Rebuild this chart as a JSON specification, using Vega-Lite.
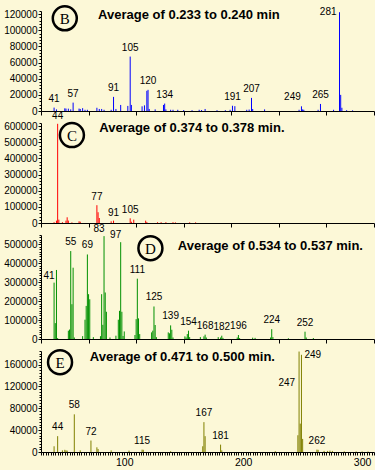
{
  "$schema": "https://vega.github.io/schema/vega-lite/v6.json",
  "padding": {"left": 3, "top": 1, "right": 0, "bottom": 2},
  "background": "#FCF8D7",
  "config": {
    "view": {"stroke": null},
    "axis": {"domainColor": "#000000", "tickColor": "#000000", "labelColor": "#000000", "labelFont": "Liberation Sans", "labelFontSize": 10, "grid": false, "tickWidth": 1, "domainWidth": 1},
    "text": {"font": "Liberation Sans", "fontSize": 10, "color": "#000000"}
  },
  "datasets": {
    "peaks": [
      {"p": "B", "mz": 41, "i": 4200, "lab": "41"}, {"p": "B", "mz": 43, "i": 2000}, {"p": "B", "mz": 50, "i": 3300}, {"p": "B", "mz": 51, "i": 3000}, {"p": "B", "mz": 53, "i": 2900}, {"p": "B", "mz": 55, "i": 2000}, {"p": "B", "mz": 57, "i": 10400, "lab": "57"}, {"p": "B", "mz": 62, "i": 3000}, {"p": "B", "mz": 63, "i": 2500}, {"p": "B", "mz": 65, "i": 3500}, {"p": "B", "mz": 67, "i": 1500}, {"p": "B", "mz": 69, "i": 1500}, {"p": "B", "mz": 77, "i": 4000}, {"p": "B", "mz": 79, "i": 2500}, {"p": "B", "mz": 81, "i": 2500}, {"p": "B", "mz": 83, "i": 1500}, {"p": "B", "mz": 89, "i": 1500}, {"p": "B", "mz": 91, "i": 17500, "lab": "91"}, {"p": "B", "mz": 93, "i": 2500}, {"p": "B", "mz": 97, "i": 7500}, {"p": "B", "mz": 103, "i": 6300}, {"p": "B", "mz": 105, "i": 67500, "lab": "105"}, {"p": "B", "mz": 106, "i": 7500}, {"p": "B", "mz": 115, "i": 5800}, {"p": "B", "mz": 117, "i": 7000}, {"p": "B", "mz": 119, "i": 25000}, {"p": "B", "mz": 120, "i": 26250, "lab": "120"}, {"p": "B", "mz": 121, "i": 2500}, {"p": "B", "mz": 126, "i": 2000}, {"p": "B", "mz": 133, "i": 7500}, {"p": "B", "mz": 134, "i": 9200, "lab": "134"}, {"p": "B", "mz": 135, "i": 2000}, {"p": "B", "mz": 139, "i": 1500}, {"p": "B", "mz": 141, "i": 1500}, {"p": "B", "mz": 145, "i": 1500}, {"p": "B", "mz": 150, "i": 1200}, {"p": "B", "mz": 157, "i": 1000}, {"p": "B", "mz": 163, "i": 1500}, {"p": "B", "mz": 165, "i": 1200}, {"p": "B", "mz": 168, "i": 2500}, {"p": "B", "mz": 178, "i": 1000}, {"p": "B", "mz": 185, "i": 1000}, {"p": "B", "mz": 189, "i": 1500}, {"p": "B", "mz": 191, "i": 6500, "lab": "191"}, {"p": "B", "mz": 193, "i": 6000}, {"p": "B", "mz": 203, "i": 1500}, {"p": "B", "mz": 205, "i": 1800}, {"p": "B", "mz": 207, "i": 16250, "lab": "207"}, {"p": "B", "mz": 208, "i": 2500}, {"p": "B", "mz": 218, "i": 2000}, {"p": "B", "mz": 247, "i": 1500}, {"p": "B", "mz": 249, "i": 5800, "lab": "249"}, {"p": "B", "mz": 250, "i": 2000}, {"p": "B", "mz": 251, "i": 1500}, {"p": "B", "mz": 263, "i": 1500}, {"p": "B", "mz": 265, "i": 8750, "lab": "265"}, {"p": "B", "mz": 276, "i": 1500}, {"p": "B", "mz": 281, "i": 122500, "lab": "281"}, {"p": "B", "mz": 282, "i": 20000}, {"p": "B", "mz": 283, "i": 4000}, {"p": "B", "mz": 287, "i": 1000}, {"p": "B", "mz": 292, "i": 800},

      {"p": "C", "mz": 41, "i": 5000}, {"p": "C", "mz": 43, "i": 14600}, {"p": "C", "mz": 44, "i": 615000, "lab": "44"}, {"p": "C", "mz": 45, "i": 20800}, {"p": "C", "mz": 48, "i": 5000}, {"p": "C", "mz": 51, "i": 14600}, {"p": "C", "mz": 52, "i": 35400}, {"p": "C", "mz": 53, "i": 15000}, {"p": "C", "mz": 56, "i": 4000}, {"p": "C", "mz": 62, "i": 10400}, {"p": "C", "mz": 63, "i": 8000}, {"p": "C", "mz": 77, "i": 110400, "lab": "77"}, {"p": "C", "mz": 78, "i": 66700}, {"p": "C", "mz": 79, "i": 31000}, {"p": "C", "mz": 89, "i": 10400}, {"p": "C", "mz": 91, "i": 14600, "lab": "91"}, {"p": "C", "mz": 105, "i": 29000, "lab": "105"}, {"p": "C", "mz": 106, "i": 8000}, {"p": "C", "mz": 108, "i": 20800}, {"p": "C", "mz": 118, "i": 14600}, {"p": "C", "mz": 119, "i": 6000}, {"p": "C", "mz": 128, "i": 5000}, {"p": "C", "mz": 131, "i": 5000}, {"p": "C", "mz": 135, "i": 5000}, {"p": "C", "mz": 141, "i": 5000}, {"p": "C", "mz": 143, "i": 4000}, {"p": "C", "mz": 155, "i": 4000}, {"p": "C", "mz": 160, "i": 4000},

      {"p": "D", "mz": 41, "i": 298000, "lab": "41"}, {"p": "D", "mz": 42, "i": 84000}, {"p": "D", "mz": 43, "i": 365000}, {"p": "D", "mz": 44, "i": 5000}, {"p": "D", "mz": 53, "i": 44000}, {"p": "D", "mz": 54, "i": 50000}, {"p": "D", "mz": 55, "i": 465000, "lab": "55"}, {"p": "D", "mz": 56, "i": 184000}, {"p": "D", "mz": 57, "i": 377000}, {"p": "D", "mz": 58, "i": 8000}, {"p": "D", "mz": 65, "i": 15000}, {"p": "D", "mz": 67, "i": 102000}, {"p": "D", "mz": 68, "i": 175000}, {"p": "D", "mz": 69, "i": 447000, "lab": "69"}, {"p": "D", "mz": 70, "i": 237000}, {"p": "D", "mz": 71, "i": 210000}, {"p": "D", "mz": 74, "i": 10000}, {"p": "D", "mz": 80, "i": 15000}, {"p": "D", "mz": 81, "i": 237000}, {"p": "D", "mz": 82, "i": 75000}, {"p": "D", "mz": 83, "i": 544000, "lab": "83"}, {"p": "D", "mz": 84, "i": 246000}, {"p": "D", "mz": 85, "i": 144000}, {"p": "D", "mz": 88, "i": 8000}, {"p": "D", "mz": 93, "i": 17500}, {"p": "D", "mz": 95, "i": 102000}, {"p": "D", "mz": 96, "i": 149000}, {"p": "D", "mz": 97, "i": 512000, "lab": "97"}, {"p": "D", "mz": 98, "i": 144000}, {"p": "D", "mz": 99, "i": 16000}, {"p": "D", "mz": 100, "i": 40000}, {"p": "D", "mz": 109, "i": 21000}, {"p": "D", "mz": 110, "i": 105000}, {"p": "D", "mz": 111, "i": 319000, "lab": "111"}, {"p": "D", "mz": 112, "i": 109000}, {"p": "D", "mz": 113, "i": 26000}, {"p": "D", "mz": 123, "i": 35000}, {"p": "D", "mz": 124, "i": 44000}, {"p": "D", "mz": 125, "i": 172000, "lab": "125"}, {"p": "D", "mz": 126, "i": 74000}, {"p": "D", "mz": 127, "i": 10000}, {"p": "D", "mz": 137, "i": 35000}, {"p": "D", "mz": 138, "i": 30000}, {"p": "D", "mz": 139, "i": 72000, "lab": "139"}, {"p": "D", "mz": 140, "i": 49000}, {"p": "D", "mz": 141, "i": 8000}, {"p": "D", "mz": 151, "i": 14000}, {"p": "D", "mz": 152, "i": 8000}, {"p": "D", "mz": 153, "i": 26000}, {"p": "D", "mz": 154, "i": 44000, "lab": "154"}, {"p": "D", "mz": 155, "i": 10000}, {"p": "D", "mz": 164, "i": 10000}, {"p": "D", "mz": 167, "i": 14000}, {"p": "D", "mz": 168, "i": 23000, "lab": "168"}, {"p": "D", "mz": 169, "i": 8000}, {"p": "D", "mz": 179, "i": 10000}, {"p": "D", "mz": 181, "i": 8000}, {"p": "D", "mz": 182, "i": 17500, "lab": "182"}, {"p": "D", "mz": 183, "i": 6000}, {"p": "D", "mz": 195, "i": 8000}, {"p": "D", "mz": 196, "i": 21000, "lab": "196"}, {"p": "D", "mz": 197, "i": 5000}, {"p": "D", "mz": 208, "i": 7000}, {"p": "D", "mz": 210, "i": 6000}, {"p": "D", "mz": 223, "i": 8000}, {"p": "D", "mz": 224, "i": 52000, "lab": "224"}, {"p": "D", "mz": 225, "i": 10000}, {"p": "D", "mz": 238, "i": 4000}, {"p": "D", "mz": 252, "i": 38600, "lab": "252"}, {"p": "D", "mz": 253, "i": 8000}, {"p": "D", "mz": 259, "i": 5000},

      {"p": "E", "mz": 41, "i": 10500}, {"p": "E", "mz": 44, "i": 29000, "lab": "44"}, {"p": "E", "mz": 48, "i": 3000}, {"p": "E", "mz": 50, "i": 4000}, {"p": "E", "mz": 51, "i": 3000}, {"p": "E", "mz": 52, "i": 2500}, {"p": "E", "mz": 58, "i": 69000, "lab": "58"}, {"p": "E", "mz": 63, "i": 3000}, {"p": "E", "mz": 72, "i": 21000, "lab": "72"}, {"p": "E", "mz": 77, "i": 8600}, {"p": "E", "mz": 78, "i": 5500}, {"p": "E", "mz": 89, "i": 3000}, {"p": "E", "mz": 104, "i": 2500}, {"p": "E", "mz": 115, "i": 4300, "lab": "115"}, {"p": "E", "mz": 116, "i": 4000}, {"p": "E", "mz": 139, "i": 1500}, {"p": "E", "mz": 166, "i": 10500}, {"p": "E", "mz": 167, "i": 54700, "lab": "167"}, {"p": "E", "mz": 168, "i": 29000}, {"p": "E", "mz": 181, "i": 13500, "lab": "181"}, {"p": "E", "mz": 182, "i": 3000}, {"p": "E", "mz": 227, "i": 1500}, {"p": "E", "mz": 246, "i": 30700}, {"p": "E", "mz": 247, "i": 184000, "lab": "247"}, {"p": "E", "mz": 248, "i": 52000}, {"p": "E", "mz": 249, "i": 178000, "lab": "249"}, {"p": "E", "mz": 250, "i": 24000}, {"p": "E", "mz": 262, "i": 4300, "lab": "262"}, {"p": "E", "mz": 263, "i": 4000}, {"p": "E", "mz": 268, "i": 2000}, {"p": "E", "mz": 271, "i": 2000}, {"p": "E", "mz": 273, "i": 2500}, {"p": "E", "mz": 275, "i": 2000}, {"p": "E", "mz": 285, "i": 1200}, {"p": "E", "mz": 295, "i": 1000}, {"p": "E", "mz": 300, "i": 1000}, {"p": "E", "mz": 305, "i": 1000}
    ]
  },
  "vconcat": [
    {
      "width": 333, "height": 100,
      "data": {"name": "peaks"},
      "transform": [{"filter": "datum.p == 'B'"}],
      "resolve": {"axis": {"y": "independent"}},
      "layer": [
        {"mark": {"type": "rule", "color": "#0000FF", "strokeWidth": 1},
         "encoding": {
           "x": {"field": "mz", "type": "quantitative", "scale": {"domain": [30, 310], "nice": false}, "axis": {"title": null, "labels": false, "tickSize": 4, "values": [30,40,50,60,70,80,90,100,110,120,130,140,150,160,170,180,190,200,210,220,230,240,250,260,270,280,290,300,310]}},
           "y": {"field": "i", "type": "quantitative", "scale": {"domain": [0, 124000], "nice": false}, "axis": {"title": null, "tickSize": 3, "labelPadding": 1, "format": "d", "values": [0,20000,40000,60000,80000,100000,120000]}},
           "y2": {"datum": 0}}},
        {"transform": [{"filter": "isValid(datum.lab) && datum.mz != 281 && datum.mz != 249"}],
         "mark": {"type": "text", "baseline": "bottom", "dy": -4},
         "encoding": {"x": {"field": "mz", "type": "quantitative"}, "y": {"field": "i", "type": "quantitative", "axis": {"title": null, "labels": false, "domain": false, "tickSize": 2, "orient": "left", "values": [4000,8000,12000,16000,24000,28000,32000,36000,44000,48000,52000,56000,64000,68000,72000,76000,84000,88000,92000,96000,104000,108000,112000,116000,124000]}}, "text": {"field": "lab"}}},
        {"transform": [{"filter": "datum.mz == 249"}],
         "mark": {"type": "text", "baseline": "bottom", "dy": -4, "dx": -9},
         "encoding": {"x": {"field": "mz", "type": "quantitative"}, "y": {"field": "i", "type": "quantitative", "axis": null}, "text": {"field": "lab"}}},
        {"transform": [{"filter": "datum.mz == 281"}],
         "mark": {"type": "text", "baseline": "middle", "align": "right", "dx": -3},
         "encoding": {"x": {"field": "mz", "type": "quantitative"}, "y": {"field": "i", "type": "quantitative", "axis": null}, "text": {"field": "lab"}}},
        {"data": {"values": [{}]},
         "mark": {"type": "point", "shape": "circle", "size": 576, "filled": false, "stroke": "#000000", "strokeWidth": 2.5, "opacity": 1},
         "encoding": {"x": {"datum": 50, "type": "quantitative"}, "y": {"datum": 115000, "type": "quantitative", "axis": null}}},
        {"data": {"values": [{}]},
         "mark": {"type": "text", "text": "B", "font": "Liberation Serif", "fontSize": 15, "baseline": "middle", "align": "center", "dy": 1},
         "encoding": {"x": {"datum": 50, "type": "quantitative"}, "y": {"datum": 115000, "type": "quantitative", "axis": null}}},
        {"data": {"values": [{}]},
         "mark": {"type": "text", "text": "Average of 0.233 to 0.240 min", "fontWeight": "bold", "fontSize": 13, "baseline": "middle", "align": "left"},
         "encoding": {"x": {"datum": 78, "type": "quantitative"}, "y": {"datum": 119000, "type": "quantitative", "axis": null}}}
      ]
    },
    {
      "width": 333, "height": 100,
      "data": {"name": "peaks"},
      "transform": [{"filter": "datum.p == 'C'"}],
      "resolve": {"axis": {"y": "independent"}},
      "layer": [
        {"mark": {"type": "rule", "color": "#FF0000", "strokeWidth": 1},
         "encoding": {
           "x": {"field": "mz", "type": "quantitative", "scale": {"domain": [30, 310], "nice": false}, "axis": {"title": null, "labels": false, "tickSize": 4, "values": [30,40,50,60,70,80,90,100,110,120,130,140,150,160,170,180,190,200,210,220,230,240,250,260,270,280,290,300,310]}},
           "y": {"field": "i", "type": "quantitative", "scale": {"domain": [0, 620000], "nice": false}, "axis": {"title": null, "tickSize": 3, "labelPadding": 1, "format": "d", "values": [0,100000,200000,300000,400000,500000,600000]}},
           "y2": {"datum": 0}}},
        {"transform": [{"filter": "isValid(datum.lab)"}],
         "mark": {"type": "text", "baseline": "bottom", "dy": -3},
         "encoding": {"x": {"field": "mz", "type": "quantitative"}, "y": {"field": "i", "type": "quantitative", "axis": {"title": null, "labels": false, "domain": false, "tickSize": 2, "orient": "left", "values": [20000,40000,60000,80000,120000,140000,160000,180000,220000,240000,260000,280000,320000,340000,360000,380000,420000,440000,460000,480000,520000,540000,560000,580000,620000]}}, "text": {"field": "lab"}}},
        {"data": {"values": [{}]},
         "mark": {"type": "point", "shape": "circle", "size": 576, "filled": false, "stroke": "#000000", "strokeWidth": 2.5, "opacity": 1},
         "encoding": {"x": {"datum": 56, "type": "quantitative"}, "y": {"datum": 545000, "type": "quantitative", "axis": null}}},
        {"data": {"values": [{}]},
         "mark": {"type": "text", "text": "C", "font": "Liberation Serif", "fontSize": 15, "baseline": "middle", "align": "center", "dy": 1},
         "encoding": {"x": {"datum": 56, "type": "quantitative"}, "y": {"datum": 545000, "type": "quantitative", "axis": null}}},
        {"data": {"values": [{}]},
         "mark": {"type": "text", "text": "Average of 0.374 to 0.378 min.", "fontWeight": "bold", "fontSize": 13, "baseline": "middle", "align": "left"},
         "encoding": {"x": {"datum": 79, "type": "quantitative"}, "y": {"datum": 587000, "type": "quantitative", "axis": null}}}
      ]
    },
    {
      "width": 333, "height": 104,
      "data": {"name": "peaks"},
      "transform": [{"filter": "datum.p == 'D'"}],
      "resolve": {"axis": {"y": "independent"}},
      "layer": [
        {"mark": {"type": "rule", "color": "#009000", "strokeWidth": 1},
         "encoding": {
           "x": {"field": "mz", "type": "quantitative", "scale": {"domain": [30, 310], "nice": false}, "axis": {"title": null, "labels": false, "tickSize": 4, "values": [30,40,50,60,70,80,90,100,110,120,130,140,150,160,170,180,190,200,210,220,230,240,250,260,270,280,290,300,310]}},
           "y": {"field": "i", "type": "quantitative", "scale": {"domain": [0, 550000], "nice": false}, "axis": {"title": null, "tickSize": 3, "labelPadding": 1, "format": "d", "values": [0,100000,200000,300000,400000,500000]}},
           "y2": {"datum": 0}}},
        {"transform": [{"filter": "isValid(datum.lab) && datum.mz != 83 && datum.mz != 97 && datum.mz != 41"}],
         "mark": {"type": "text", "baseline": "bottom", "dy": -4},
         "encoding": {"x": {"field": "mz", "type": "quantitative"}, "y": {"field": "i", "type": "quantitative", "axis": {"title": null, "labels": false, "domain": false, "tickSize": 2, "orient": "left", "values": [12500,25000,37500,50000,62500,75000,87500,112500,125000,137500,150000,162500,175000,187500,212500,225000,237500,250000,262500,275000,287500,312500,325000,337500,350000,362500,375000,387500,412500,425000,437500,450000,462500,475000,487500,512500,525000,537500,550000]}}, "text": {"field": "lab"}}},
        {"transform": [{"filter": "datum.mz == 83 || datum.mz == 97 || datum.mz == 41"}],
         "mark": {"type": "text", "baseline": "bottom", "dy": -2, "dx": -5},
         "encoding": {"x": {"field": "mz", "type": "quantitative"}, "y": {"field": "i", "type": "quantitative", "axis": null}, "text": {"field": "lab"}}},
        {"data": {"values": [{}]},
         "mark": {"type": "point", "shape": "circle", "size": 576, "filled": false, "stroke": "#000000", "strokeWidth": 2.5, "opacity": 1},
         "encoding": {"x": {"datum": 122, "type": "quantitative"}, "y": {"datum": 480000, "type": "quantitative", "axis": null}}},
        {"data": {"values": [{}]},
         "mark": {"type": "text", "text": "D", "font": "Liberation Serif", "fontSize": 15, "baseline": "middle", "align": "center", "dy": 1},
         "encoding": {"x": {"datum": 122, "type": "quantitative"}, "y": {"datum": 480000, "type": "quantitative", "axis": null}}},
        {"data": {"values": [{}]},
         "mark": {"type": "text", "text": "Average of 0.534 to 0.537 min.", "fontWeight": "bold", "fontSize": 13, "baseline": "middle", "align": "left"},
         "encoding": {"x": {"datum": 145, "type": "quantitative"}, "y": {"datum": 493000, "type": "quantitative", "axis": null}}}
      ]
    },
    {
      "width": 333, "height": 101,
      "data": {"name": "peaks"},
      "transform": [{"filter": "datum.p == 'E'"}],
      "resolve": {"axis": {"y": "independent"}},
      "layer": [
        {"mark": {"type": "rule", "color": "#808000", "strokeWidth": 1},
         "encoding": {
           "x": {"field": "mz", "type": "quantitative", "scale": {"domain": [30, 310], "nice": false}, "axis": {"title": null, "tickSize": 3, "tickCount": 140, "format": "d", "labelPadding": 2, "labelFontSize": 10.5, "labelExpr": "datum.value % 100 === 0 ? datum.label : ''"}},
           "y": {"field": "i", "type": "quantitative", "scale": {"domain": [0, 185000], "nice": false}, "axis": {"title": null, "tickSize": 3, "labelPadding": 1, "format": "d", "values": [0,40000,80000,120000,160000]}},
           "y2": {"datum": 0}}},
        {"transform": [{"filter": "isValid(datum.lab) && datum.mz != 247 && datum.mz != 249"}],
         "mark": {"type": "text", "baseline": "bottom", "dy": -4},
         "encoding": {"x": {"field": "mz", "type": "quantitative"}, "y": {"field": "i", "type": "quantitative", "axis": {"title": null, "labels": false, "domain": false, "tickSize": 2, "orient": "left", "values": [5000,10000,15000,20000,25000,30000,35000,45000,50000,55000,60000,65000,70000,75000,85000,90000,95000,100000,105000,110000,115000,125000,130000,135000,140000,145000,150000,155000,165000,170000,175000,180000,185000]}}, "text": {"field": "lab"}}},
        {"transform": [{"filter": "datum.mz == 247"}],
         "mark": {"type": "text", "baseline": "middle", "align": "right", "dx": -4, "dy": 31},
         "encoding": {"x": {"field": "mz", "type": "quantitative"}, "y": {"field": "i", "type": "quantitative", "axis": null}, "text": {"field": "lab"}}},
        {"transform": [{"filter": "datum.mz == 249"}],
         "mark": {"type": "text", "baseline": "middle", "align": "left", "dx": 3},
         "encoding": {"x": {"field": "mz", "type": "quantitative"}, "y": {"field": "i", "type": "quantitative", "axis": null}, "text": {"field": "lab"}}},
        {"data": {"values": [{}]},
         "mark": {"type": "point", "shape": "circle", "size": 576, "filled": false, "stroke": "#000000", "strokeWidth": 2.5, "opacity": 1},
         "encoding": {"x": {"datum": 46, "type": "quantitative"}, "y": {"datum": 164500, "type": "quantitative", "axis": null}}},
        {"data": {"values": [{}]},
         "mark": {"type": "text", "text": "E", "font": "Liberation Serif", "fontSize": 15, "baseline": "middle", "align": "center", "dy": 1},
         "encoding": {"x": {"datum": 46, "type": "quantitative"}, "y": {"datum": 164500, "type": "quantitative", "axis": null}}},
        {"data": {"values": [{}]},
         "mark": {"type": "text", "text": "Average of 0.471 to 0.500 min.", "fontWeight": "bold", "fontSize": 13, "baseline": "middle", "align": "left"},
         "encoding": {"x": {"datum": 71, "type": "quantitative"}, "y": {"datum": 173600, "type": "quantitative", "axis": null}}}
      ]
    }
  ],
  "spacing": 12,
  "bounds": "flush"
}
